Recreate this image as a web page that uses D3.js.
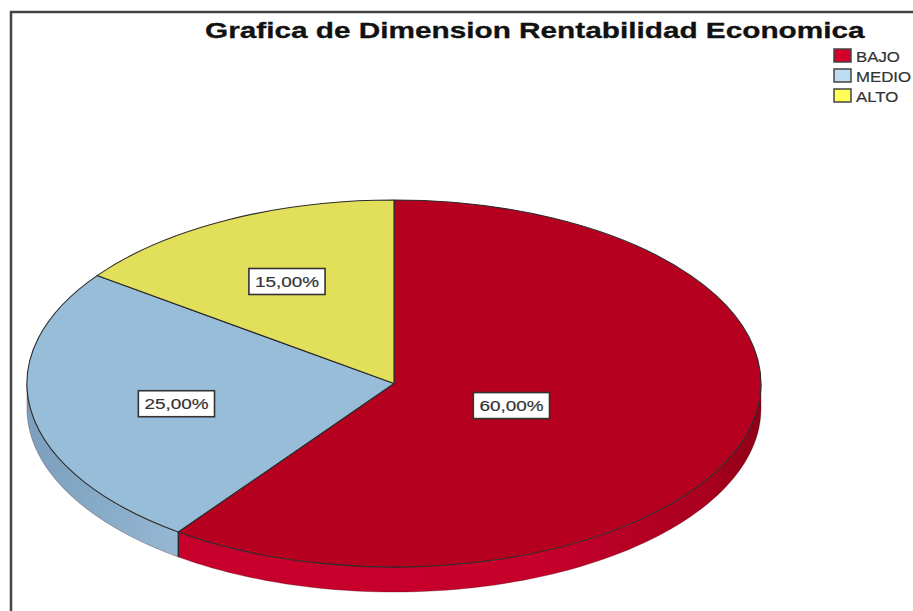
<!DOCTYPE html>
<html><head><meta charset="utf-8">
<script src="https://cdn.jsdelivr.net/npm/d3@7"></script>
<style>html,body{margin:0;padding:0;background:#fff;overflow:hidden}</style>
</head><body>
<svg id="c" width="913" height="611"></svg>
<script>
const title = "Grafica de Dimension Rentabilidad Economica";
const categories = ["BAJO", "MEDIO", "ALTO"];
const values = [60, 25, 15];
const labels = ["60,00%", "25,00%", "15,00%"];
const topColors = ["#B6001F", "#98BDD9", "#E2E05A"];
const legendColors = ["#D4002B", "#BCDCF4", "#FFFF55"];

const W = 913, H = 611;
const cx = 394, cy = 383.5, rx = 367, ry = 183.5, depth = 25;
const stretch = 1.22;

const svg = d3.select("#c");
const defs = svg.append("defs");

// frame
svg.append("path").attr("d", `M11,${H} V12 H${W}`).attr("fill", "none")
  .attr("stroke", "#444").attr("stroke-width", 2.5);

// title
const tt = svg.append("text").text(title)
  .attr("font-family", "Liberation Sans, Arial, sans-serif")
  .attr("font-weight", "bold").attr("font-size", 22).attr("fill", "#111")
  .attr("stroke", "#111").attr("stroke-width", 0.3);
const tw = tt.node().getComputedTextLength();
tt.attr("transform", `translate(205,37.5) scale(${660 / tw},1)`);

// pie
const pie = d3.pie().sort(null).value(d => d)(values);
const sx = d3.scaleLinear().domain([-1, 1]).range([cx - rx, cx + rx]);
const sy = d3.scaleLinear().domain([-1, 1]).range([cy - ry, cy + ry]);
const px = a => sx(Math.sin(a));
const py = a => sy(-Math.cos(a));

// side gradients
const gRed = defs.append("linearGradient").attr("id", "gs0").attr("gradientUnits", "userSpaceOnUse")
  .attr("x1", cx - rx).attr("x2", cx + rx).attr("y1", 0).attr("y2", 0);
[[0, "#C8002C"], [0.7, "#C6002B"], [0.93, "#A8001F"], [1, "#8E0016"]].forEach(s =>
  gRed.append("stop").attr("offset", s[0]).attr("stop-color", s[1]));
const gBlue = defs.append("linearGradient").attr("id", "gs1").attr("gradientUnits", "userSpaceOnUse")
  .attr("x1", cx - rx).attr("x2", cx - rx + 160).attr("y1", 0).attr("y2", 0);
[[0, "#7C9FBD"], [0.5, "#88ABC8"], [1, "#97B9D4"]].forEach(s =>
  gBlue.append("stop").attr("offset", s[0]).attr("stop-color", s[1]));
const sideFill = ["url(#gs0)", "url(#gs1)", "#C9C74C"];

const line = d3.line().x(d => d[0]).y(d => d[1]);
const sides = svg.append("g");
pie.forEach((p, i) => {
  const a0 = Math.max(p.startAngle, Math.PI / 2), a1 = Math.min(p.endAngle, 3 * Math.PI / 2);
  if (a1 <= a0) return;
  const n = 80, pts = [];
  for (let k = 0; k <= n; k++) { const a = a0 + (a1 - a0) * k / n; pts.push([px(a), py(a)]); }
  const bot = pts.slice().reverse().map(q => [q[0], q[1] + depth]);
  sides.append("path").attr("d", line(pts.concat(bot)) + "Z")
    .attr("fill", sideFill[i]).attr("stroke", "#3a0a0a").attr("stroke-width", 0.6)
    .attr("stroke-opacity", 0.5);
});
pie.forEach(p => {
  const a = p.startAngle;
  if (a > Math.PI / 2 && a < 3 * Math.PI / 2) {
    sides.append("line").attr("x1", px(a)).attr("x2", px(a)).attr("y1", py(a)).attr("y2", py(a) + depth)
      .attr("stroke", "#222").attr("stroke-width", 1.2);
  }
});

// top faces
const arc = d3.arc().innerRadius(0).outerRadius(1);
const tops = svg.append("g").attr("transform", `translate(${cx},${cy}) scale(${rx},${ry})`);
tops.selectAll("path").data(pie).join("path")
  .attr("d", arc).attr("fill", (d, i) => topColors[i])
  .attr("stroke", "#2a2a2a").attr("stroke-width", 1.1)
  .attr("vector-effect", "non-scaling-stroke").attr("stroke-linejoin", "round");

// labels at the sector area centroid
const lab = svg.append("g");
pie.forEach((p, i) => {
  const alpha = p.endAngle - p.startAngle, mid = (p.startAngle + p.endAngle) / 2;
  const f = (2 / 3) * Math.sin(alpha / 2) / (alpha / 2);
  const x = cx + rx * f * Math.sin(mid), y = cy - ry * f * Math.cos(mid) + 3;
  const g = lab.append("g");
  const t = g.append("text").text(labels[i]).attr("font-family", "Liberation Sans, Arial, sans-serif")
    .attr("font-size", 15.5).attr("fill", "#333").attr("text-anchor", "middle").attr("dy", "0.36em")
    .attr("stroke", "#333").attr("stroke-width", 0.2);
  const w = t.node().getComputedTextLength() * stretch;
  t.attr("transform", `translate(${x},${y}) scale(${stretch},1)`);
  g.insert("rect", "text").attr("x", x - w / 2 - 6).attr("y", y - 13).attr("width", w + 12).attr("height", 26)
    .attr("fill", "#fff").attr("stroke", "#333").attr("stroke-width", 1.6);
});

// legend
const leg = svg.append("g");
categories.forEach((c, i) => {
  const y = 49 + i * 20;
  leg.append("rect").attr("x", 834).attr("y", y).attr("width", 17).attr("height", 13)
    .attr("fill", legendColors[i]).attr("stroke", "#444").attr("stroke-width", 1.5);
  leg.append("text").text(c).attr("font-family", "Liberation Sans, Arial, sans-serif")
    .attr("font-size", 15).attr("fill", "#333").attr("stroke", "#333").attr("stroke-width", 0.2)
    .attr("transform", `translate(856,${y + 12.5}) scale(1.12,1)`);
});
</script>
</body></html>
